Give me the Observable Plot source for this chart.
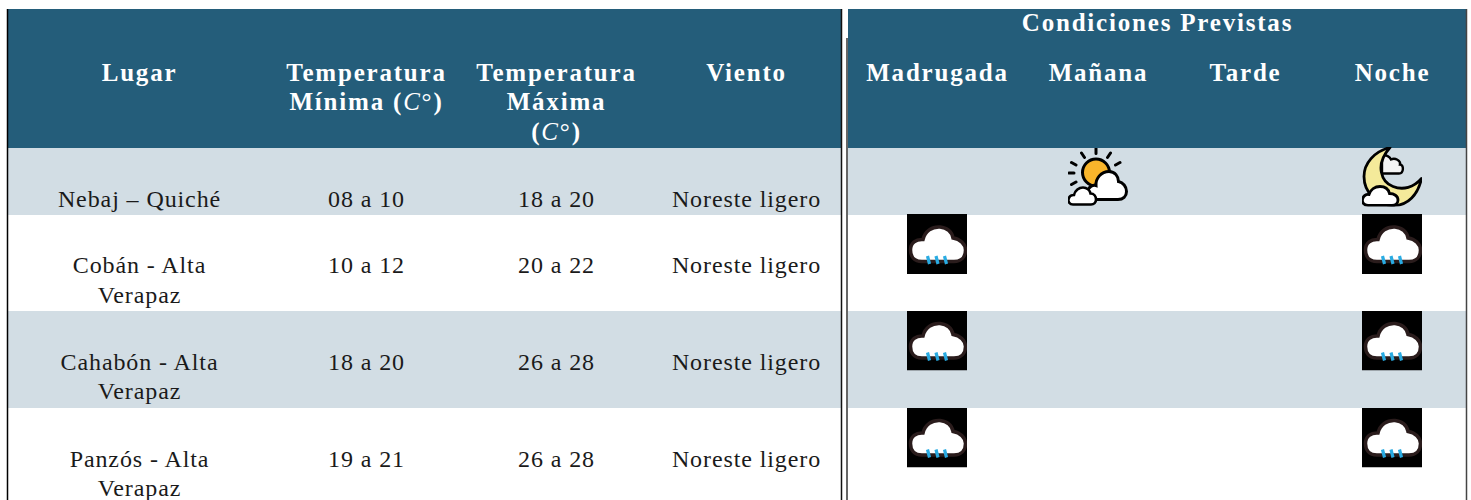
<!DOCTYPE html>
<html>
<head>
<meta charset="utf-8">
<style>
html,body{margin:0;padding:0;background:#fff}
svg{display:block}
</style>
<script src="https://cdn.jsdelivr.net/npm/d3@7"></script>
<script src="https://cdn.jsdelivr.net/npm/@observablehq/plot@0.6"></script>
</head>
<body>
<div id="chart"></div>
<script>
// ---- table content
const columns = ["Lugar", "Temperatura\nMínima (C°)", "Temperatura\nMáxima\n(C°)", "Viento", "Madrugada", "Mañana", "Tarde", "Noche"];
const spanner = "Condiciones Previstas";
const lugares = ["Nebaj – Quiché", "Cobán - Alta\nVerapaz", "Cahabón - Alta\nVerapaz", "Panzós - Alta\nVerapaz"];
const tempMin = ["08 a 10", "10 a 12", "18 a 20", "19 a 21"];
const tempMax = ["18 a 20", "20 a 22", "26 a 28", "26 a 28"];
const viento = ["Noreste ligero", "Noreste ligero", "Noreste ligero", "Noreste ligero"];
const madrugada = [null, "lluvia", "lluvia", "lluvia"];
const manana = ["parcial", null, null, null];
const tarde = [null, null, null, null];
const noche = ["luna", "lluvia", "lluvia", "lluvia"];

// ---- page layout of the table (kept apart from the content)
const colX = [139, 366, 556, 746, 937, 1098, 1245, 1392];
const rowEdges = [148, 215, 311, 408, 500];
const rowBaseline = [206, 272.5, 369, 466];
const iconTops = {lluvia: [0, 213.5, 310, 407], parcial: [147], luna: [146]};
const headBaseline = 80, spannerBaseline = 30, lineGap = 29.5, headGap = 29.5;
const panels = [[8, 841], [848, 1466]];
const headerColor = "#245d7a", stripeColor = "#d2dde4";

// ---- icons
const cloudRain = `<rect width="60" height="60" fill="#000"/>
<path d="M15 47.500C7 47.500 3.500 42 3.500 36C3.500 29 9 25 16 25.500C18 17 25 12.500 33 13C40 13.500 45 18 46 24C53 25 58.500 30 58.500 36C58.500 43 54 47.500 47 47.500Z" fill="#fff" stroke="#2a1c1c" stroke-width="3.500"/>
<g stroke="#29abe2" stroke-width="3.200" fill="none"><path d="M20.500 42L22.500 50M29 42L31 50M37.500 42L39.500 50"/></g>`;
const partly = `<g stroke="#000" stroke-width="3" stroke-linecap="round" fill="none"><path d="M28 1V6M13.500 5.500L16.500 10M42.500 5.500L39.500 10M3.500 15L8 17.500M52 15L47.500 17.500M1 25.500H6M3.500 37L8 34.500"/></g>
<circle cx="28" cy="25" r="13.500" fill="#f9b52b" stroke="#000" stroke-width="3"/>
<path d="M27 52C21 52 18.500 47 20 43C21 39 25 37 28 38C27.500 31 33 24 41 24C47 24 50.500 29 50.500 34C55 35 58.500 39 58.500 44C58.500 49 55 52 50 52Z" fill="#fff" stroke="#000" stroke-width="3"/>
<path d="M5 57C1.500 57 0 54 0.500 52C1 49 3.500 47.500 6 47.500C7 43 11 40 15 40C19 40 22 43 22.500 46C26 46 28 49 28 52C28 55 26 57 23 57Z" fill="#fff" stroke="#000" stroke-width="2.600"/>`;
const moon = `<path d="M20 9C25 8 28 11 29 13C33 11 39 14 38 18C42 18 42 27 37 27H20Z" fill="#f4f4f4" stroke="#000" stroke-width="2.400"/>
<path d="M28 1C12 5 2 17 2 30C2 46 15 59 32 59C46 59 56 48 59.500 32C52 41 41 44 31 40C20 36 12 19 28 1Z" fill="#f4ea9a" stroke="#000" stroke-width="2.800" stroke-linejoin="round"/>
<path d="M6 59C1.500 59 0 55.500 0.500 53C1 49.500 4 47.500 7 48C8.500 43 13 40 18 40C23 40 26.500 43 27.500 47C32 47 36 49.500 36 53.500C36 57 33 59 30 59Z" fill="#fff" stroke="#000" stroke-width="2.800"/>`;
const iconSrc = s => "data:image/svg+xml;charset=utf-8," + encodeURIComponent(`<svg xmlns="http://www.w3.org/2000/svg" viewBox="0 0 60 60" width="240" height="240">${s}</svg>`);
const icons = {lluvia: iconSrc(cloudRain), parcial: iconSrc(partly), luna: iconSrc(moon)};

// ---- tables built from the arrays
const lines = (text, x, y, gap) => text.split("\n").map((t, i) => ({t, x, y: y + i * gap}));
const headerText = columns.flatMap((c, i) => lines(c, colX[i], headBaseline, headGap));
const bodyText = [lugares, tempMin, tempMax, viento].flatMap((col, c) =>
  col.flatMap((v, r) => lines(v, colX[c], rowBaseline[r], lineGap)));
const iconCells = [madrugada, manana, tarde, noche].flatMap((col, c) =>
  col.flatMap((name, r) => name ? [{name, x: colX[c + 4] - 0.5, y: iconTops[name][r] + 30}] : []));
const headerRects = panels.map(([x1, x2]) => ({x1, x2, y1: 9, y2: rowEdges[0]}));
const stripeRects = panels.flatMap(([x1, x2]) => [0, 2].map(r => ({x1, x2, y1: rowEdges[r], y2: rowEdges[r + 1]})));

const serif = "'Liberation Serif', serif";
const chart = Plot.plot({
  width: 1471, height: 500,
  marginTop: 0, marginRight: 0, marginBottom: 0, marginLeft: 0,
  x: {domain: [0, 1471], range: [0, 1471], axis: null},
  y: {domain: [0, 500], range: [0, 500], axis: null},
  marks: [
    Plot.rect(stripeRects, {x1: "x1", x2: "x2", y1: "y1", y2: "y2", fill: stripeColor}),
    Plot.rect(headerRects, {x1: "x1", x2: "x2", y1: "y1", y2: "y2", fill: headerColor}),
    Plot.ruleX([7], {y1: 9, y2: 500, stroke: "#000", strokeWidth: 1.5}),
    Plot.ruleX([841], {y1: 9, y2: 500, stroke: "#111", strokeWidth: 1.5}),
    Plot.ruleX([846.5], {y1: 38, y2: 500, stroke: "#666", strokeWidth: 2}),
    Plot.ruleX([1466], {y1: 9, y2: 500, stroke: "#444", strokeWidth: 1.5}),
    Plot.text(headerText, {x: "x", y: "y", text: "t", fill: "#fff", lineAnchor: "bottom", fontFamily: serif, fontWeight: "bold", fontSize: 25, className: "head"}),
    Plot.text([spanner], {x: [1157], y: [spannerBaseline], text: d => d, fill: "#fff", lineAnchor: "bottom", fontFamily: serif, fontWeight: "bold", fontSize: 25, className: "head"}),
    Plot.text(bodyText, {x: "x", y: "y", text: "t", fill: "#1a1a1a", lineAnchor: "bottom", fontFamily: serif, fontSize: 24, className: "body"}),
    Plot.image(iconCells, {x: "x", y: "y", src: d => icons[d.name], width: 60, height: 60})
  ]
});
d3.select(chart).selectAll(".head text").style("letter-spacing", "1.8px");
d3.select(chart).selectAll(".body text").style("letter-spacing", "0.9px");
// math-italic unit inside the header cells
d3.select(chart).selectAll(".head text").each(function () {
  const s = this.textContent;
  if (!s.includes("C°")) return;
  const [a, b] = s.split("C°");
  const el = d3.select(this).text(null);
  el.append("tspan").text(a);
  el.append("tspan").attr("font-style", "italic").attr("font-weight", "normal").text("C");
  el.append("tspan").attr("font-weight", "normal").text("°");
  el.append("tspan").text(b);
});
document.getElementById("chart").appendChild(chart);
</script>
</body>
</html>
